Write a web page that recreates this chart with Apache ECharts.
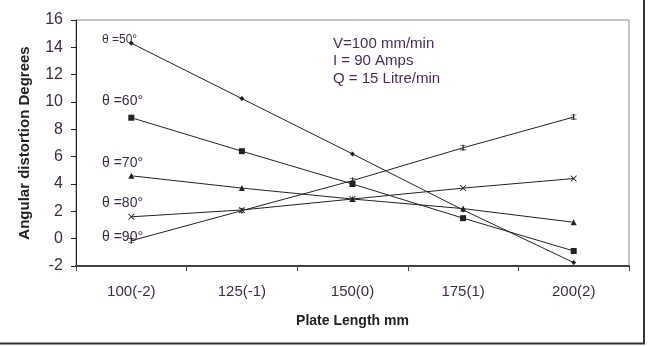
<!DOCTYPE html>
<html>
<head>
<meta charset="utf-8">
<script src="https://cdn.jsdelivr.net/npm/echarts@6/dist/echarts.min.js"></script>
<style>
  html, body { margin: 0; padding: 0; background: #fff; }
  #chart { width: 648px; height: 346px; }
</style>
</head>
<body>
<div id="chart"></div>
<script>
const categories = ['100(-2)', '125(-1)', '150(0)', '175(1)', '200(2)'];
const theta50 = [14.3, 10.25, 6.2, 2.1, -1.75];
const theta60 = [8.85, 6.4, 4.0, 1.5, -0.9];
const theta70 = [4.6, 3.7, 2.9, 2.2, 1.2];
const theta80 = [1.6, 2.1, 2.9, 3.7, 4.4];
const theta90 = [-0.15, 2.05, 4.25, 6.65, 8.9];
const seriesNames = ['θ =50°', 'θ =60°', 'θ =70°', 'θ =80°', 'θ =90°'];

const crossPath = 'path://M0,0 L1,0 L5,4 L9,0 L10,0 L10,1 L6,5 L10,9 L10,10 L9,10 L5,6 L1,10 L0,10 L0,9 L4,5 L0,1 Z';
const starPath = 'path://M4,0 L6,0 L6,10 L4,10 Z M0,1 L10,1 L10,2 L0,2 Z M0,8 L10,8 L10,9 L0,9 Z';

const lineColor = '#222';
const textColor = '#3c2c48';

function makeSeries(name, data, symbol, size) {
  return {
    name: name,
    type: 'line',
    data: data,
    symbol: symbol,
    symbolSize: size,
    showSymbol: true,
    lineStyle: { color: lineColor, width: 1 },
    itemStyle: { color: lineColor, borderWidth: 0 },
    emphasis: { disabled: true },
    z: 3
  };
}

const chart = echarts.init(document.getElementById('chart'), null, { renderer: 'canvas' });
chart.setOption({
  animation: false,
  textStyle: { fontFamily: 'Liberation Sans, Arial, sans-serif' },
  grid: {
    left: 76, right: 19, top: 20, bottom: 80,
    show: true, borderColor: '#8a8a8a', borderWidth: 1
  },
  xAxis: {
    type: 'category',
    data: categories,
    boundaryGap: true,
    name: 'Plate Length mm',
    nameLocation: 'middle',
    nameGap: 48,
    nameTextStyle: { color: '#222', fontSize: 14, fontWeight: 'bold' },
    axisLine: { onZero: false, lineStyle: { color: '#444', width: 2 } },
    axisTick: { show: true, length: 5, inside: false, lineStyle: { color: '#444' } },
    axisLabel: { color: textColor, fontSize: 15, margin: 18 },
    splitLine: { show: false }
  },
  yAxis: {
    type: 'value',
    min: -2, max: 16, interval: 2,
    name: 'Angular distortion Degrees',
    nameLocation: 'middle',
    nameGap: 44,
    nameTextStyle: { color: '#222', fontSize: 15, fontWeight: 'bold' },
    axisLine: { show: true, lineStyle: { color: '#222', width: 1 } },
    axisTick: { show: true, length: 5, lineStyle: { color: '#222' } },
    axisLabel: { color: textColor, fontSize: 16, margin: 13 },
    splitLine: { show: false }
  },
  series: [
    makeSeries(seriesNames[0], theta50, 'diamond', 5),
    makeSeries(seriesNames[1], theta60, 'rect', 6),
    makeSeries(seriesNames[2], theta70, 'triangle', 6),
    makeSeries(seriesNames[3], theta80, crossPath, 6),
    makeSeries(seriesNames[4], theta90, starPath, 6)
  ],
  graphic: [
    { type: 'text', left: 102, top: 34, style: { text: seriesNames[0], fill: textColor, font: '12px Liberation Sans' } },
    { type: 'text', left: 102, top: 94, style: { text: seriesNames[1], fill: textColor, font: '14px Liberation Sans' } },
    { type: 'text', left: 102, top: 156, style: { text: seriesNames[2], fill: textColor, font: '14px Liberation Sans' } },
    { type: 'text', left: 102, top: 196, style: { text: seriesNames[3], fill: textColor, font: '14px Liberation Sans' } },
    { type: 'text', left: 102, top: 230, style: { text: seriesNames[4], fill: textColor, font: '14px Liberation Sans' } },
    { type: 'text', left: 333, top: 35, style: { text: 'V=100 mm/min\nI = 90 Amps\nQ = 15 Litre/min', fill: '#4a2c5c', font: '15px Liberation Sans', lineHeight: 17.5 } },
    { type: 'line', shape: { x1: 644, y1: 0, x2: 644, y2: 344 }, style: { stroke: '#333', lineWidth: 2 } },
    { type: 'line', shape: { x1: 0, y1: 343.5, x2: 645, y2: 343.5 }, style: { stroke: '#333', lineWidth: 2 } }
  ]
});
</script>
</body>
</html>
